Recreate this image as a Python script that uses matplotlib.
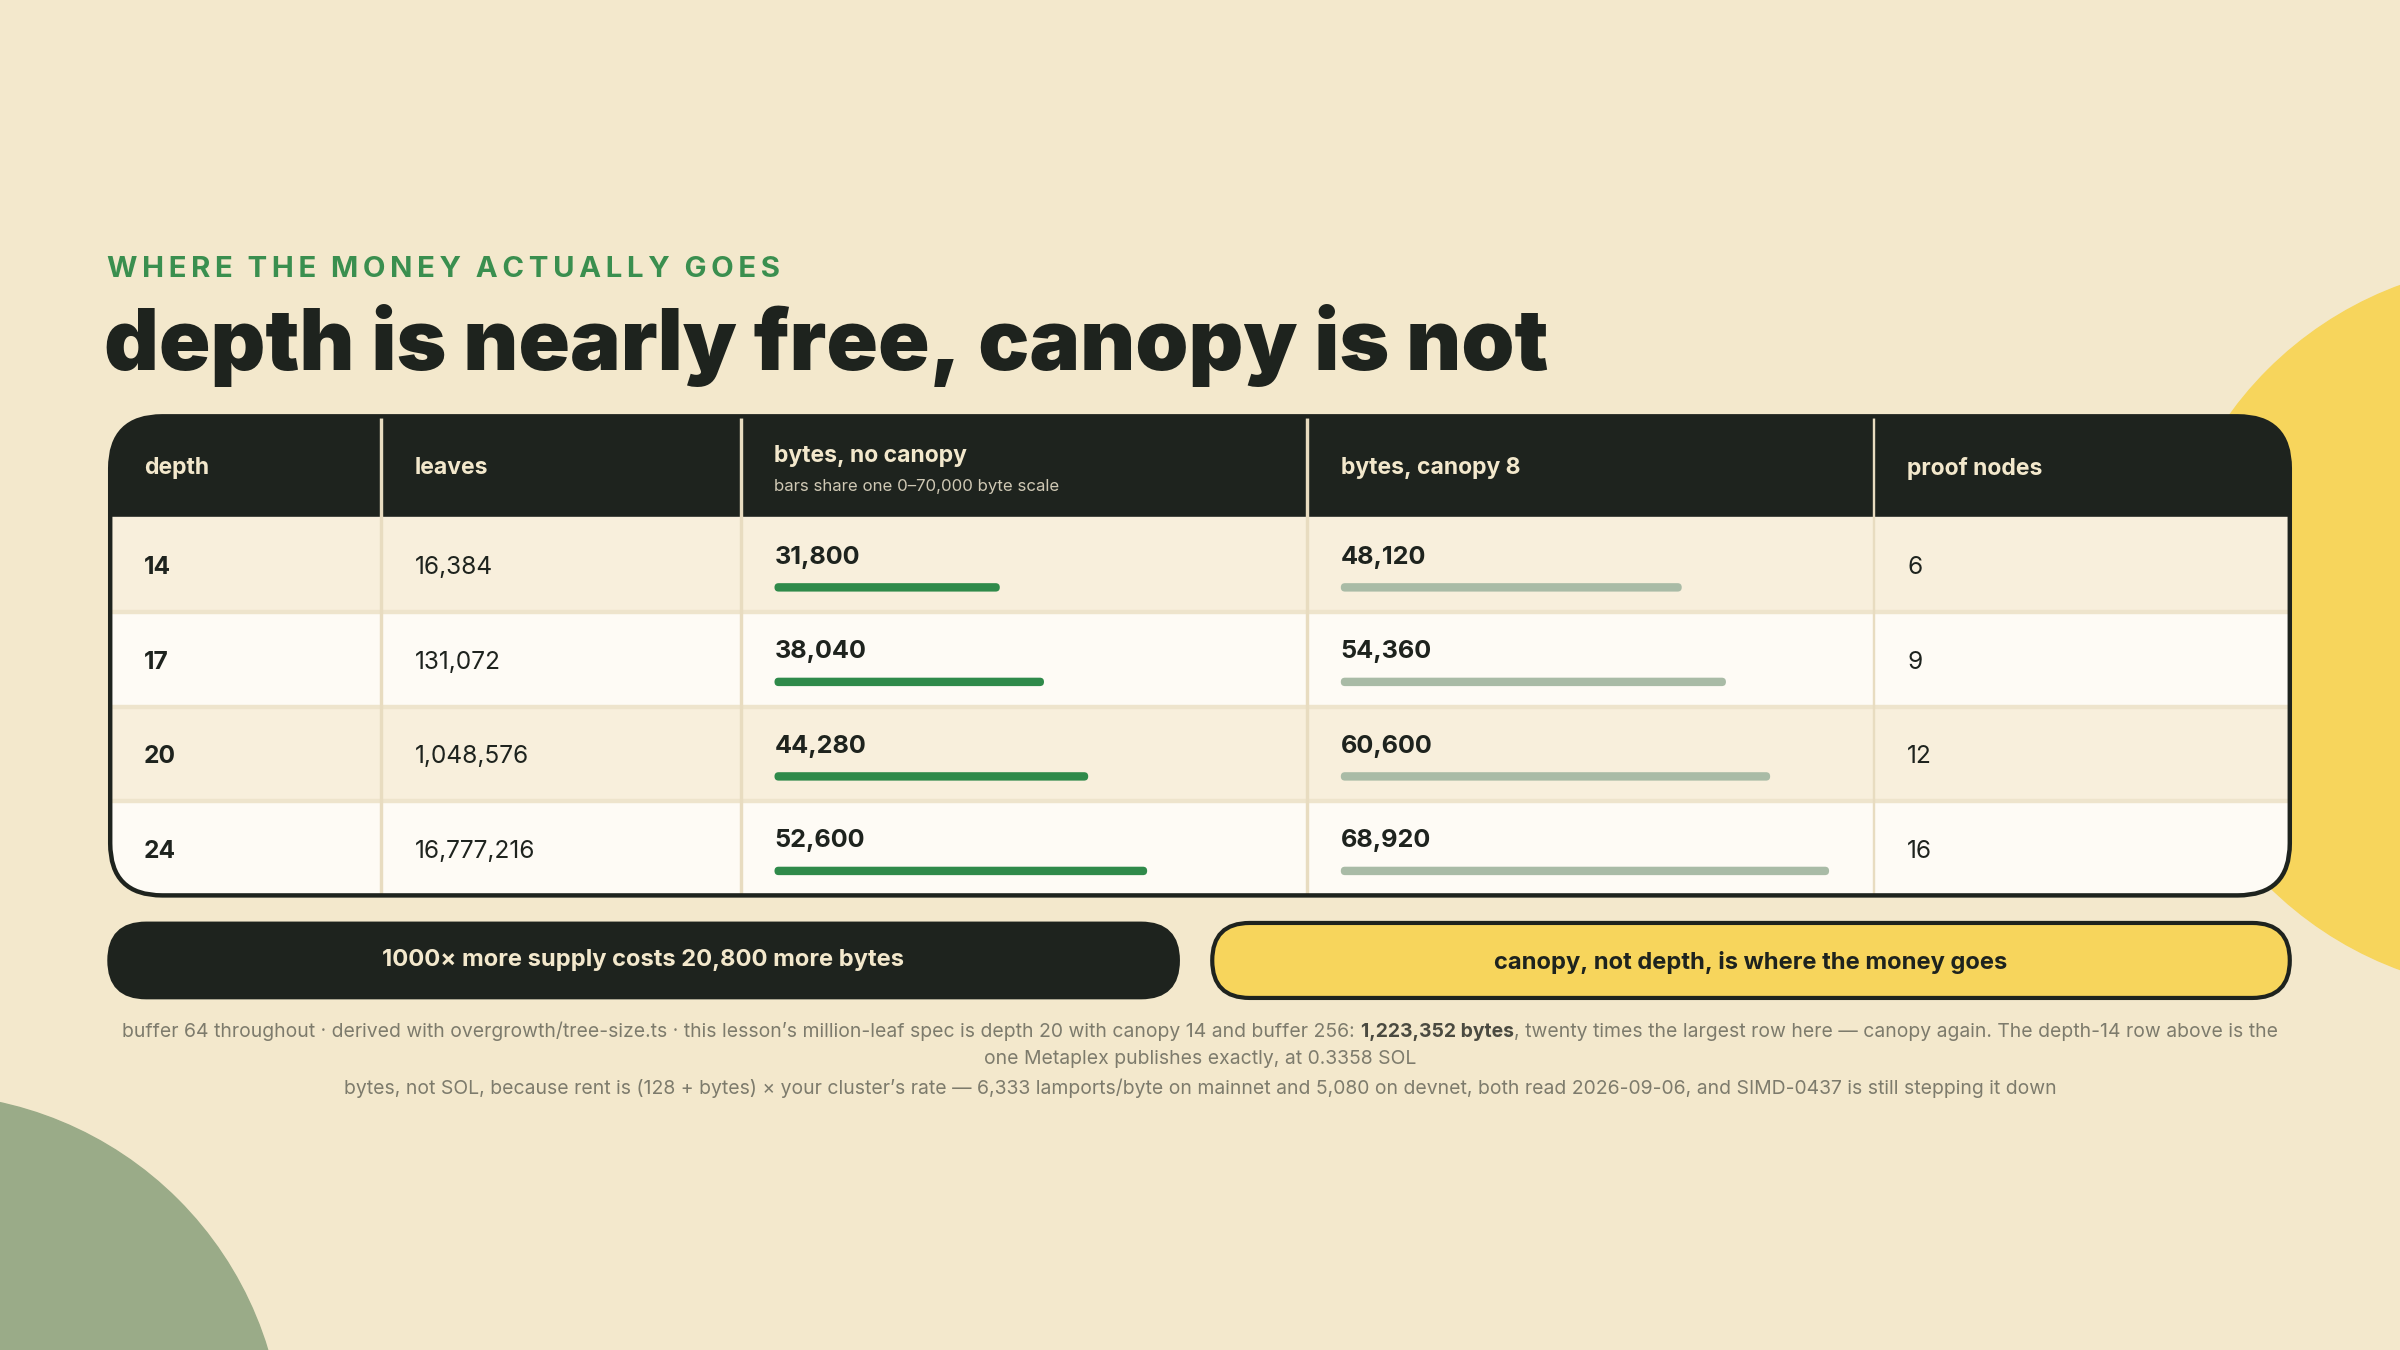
import matplotlib
matplotlib.use("Agg")
import matplotlib.pyplot as plt
from matplotlib.patches import FancyBboxPatch, Rectangle, Circle
from matplotlib.offsetbox import TextArea, HPacker, AnnotationBbox

depth = ["14", "17", "20", "24"]
leaves = ["16,384", "131,072", "1,048,576", "16,777,216"]
bytes_no_canopy = [31800, 38040, 44280, 52600]
bytes_canopy8 = [48120, 54360, 60600, 68920]
proof_nodes = [6, 9, 12, 16]
headers = ["depth", "leaves", "bytes, no canopy", "bytes, canopy 8", "proof nodes"]
scale_max = 70000

W, H = 1568, 882
K = 2400 / W / (100 / 72)  # display px -> pt
BG = "#f3e8cc"; DARK = "#1e231e"; GREEN = "#2f8a4a"; GREY = "#a9bba6"; YEL = "#f7d55c"
FONT = "Inter"

fig = plt.figure(figsize=(24, 13.5), dpi=100, facecolor=BG)
ax = fig.add_axes([0, 0, 1, 1])
ax.set_xlim(0, W); ax.set_ylim(H, 0); ax.axis("off")

ax.add_patch(Circle((1650, 410), 238, color=YEL, zorder=0))
ax.add_patch(Circle((-50, 950), 235, color="#9aab88", zorder=0))

def t(x, y, s, size, **kw):
    kw.setdefault("family", FONT)
    ax.text(x, y, s, fontsize=size * K, **kw)

sub = "WHERE THE MONEY ACTUALLY GOES"
sub_spaced = "\u2002".join("\u2009".join(w) for w in sub.split(" "))
t(70, 176, sub_spaced, 19.2, color="#3a8f4f", weight="bold", va="center")
t(68, 226, "depth is nearly free, canopy is not", 55.5, color=DARK, weight="black", va="center")

# table
x0, x1, y0, y1 = 72, 1496, 272, 585
hdr_bot = 338
rowh = (y1 - hdr_bot) / 4
cols = [x0, 249, 484, 854, 1224, x1]
clip = FancyBboxPatch((x0, y0), x1 - x0, y1 - y0, boxstyle="round,pad=0,rounding_size=34",
                      facecolor="none", edgecolor="none")
ax.add_patch(clip)
patches = [Rectangle((x0, y0), x1 - x0, hdr_bot - y0, color=DARK)]
for i in range(4):
    c = "#f8efdc" if i % 2 == 0 else "#fefbf5"
    patches.append(Rectangle((x0, hdr_bot + i * rowh), x1 - x0, rowh, color=c))
for i in range(1, 4):
    patches.append(Rectangle((x0, hdr_bot + i * rowh - 1), x1 - x0, 2, color="#eee4cc"))
for cx in cols[1:-1]:
    patches.append(Rectangle((cx - 0.6, y0), 1.2, y1 - y0, color="#e8dcc0"))
for p in patches:
    ax.add_patch(p); p.set_clip_path(clip)
ax.add_patch(FancyBboxPatch((x0, y0), x1 - x0, y1 - y0, boxstyle="round,pad=0,rounding_size=34",
                            facecolor="none", edgecolor=DARK, lw=3.2, zorder=5))

for j, h in enumerate(headers):
    if j == 2:
        t(cols[j] + 22, 298, h, 15, color="#f3e8cc", weight="bold", va="center")
        t(cols[j] + 22, 318, "bars share one 0\u201370,000 byte scale", 11, color="#cfc8b4", va="center")
    else:
        t(cols[j] + 22, 306, h, 15, color="#f3e8cc", weight="bold", va="center")

barw = 324
for i in range(4):
    ry = hdr_bot + i * rowh
    cy = ry + rowh / 2
    t(cols[0] + 22, cy + 2, depth[i], 16, color=DARK, weight="bold", va="center")
    t(cols[1] + 22, cy + 2, leaves[i], 16, color=DARK, va="center")
    t(cols[2] + 22, ry + 26, f"{bytes_no_canopy[i]:,}", 16.5, color=DARK, weight="bold", va="center")
    t(cols[3] + 22, ry + 26, f"{bytes_canopy8[i]:,}", 16.5, color=DARK, weight="bold", va="center")
    t(cols[4] + 22, cy + 2, str(proof_nodes[i]), 16, color=DARK, va="center")
    for col, v, c in ((2, bytes_no_canopy[i], GREEN), (3, bytes_canopy8[i], GREY)):
        w = v / scale_max * barw
        ax.add_patch(FancyBboxPatch((cols[col] + 22, ry + 43), w, 5.5,
                                    boxstyle="round,pad=0,rounding_size=2.7", color=c, lw=0))

# pills
ax.add_patch(FancyBboxPatch((71, 603), 699, 49, boxstyle="round,pad=0,rounding_size=24.5",
                            facecolor=DARK, edgecolor=DARK, lw=2))
t(420, 627, "1000\u00d7 more supply costs 20,800 more bytes", 15.5, color="#f3e8cc", weight="bold",
  ha="center", va="center")
ax.add_patch(FancyBboxPatch((792, 603), 704, 49, boxstyle="round,pad=0,rounding_size=24.5",
                            facecolor=YEL, edgecolor=DARK, lw=3))
t(1144, 629, "canopy, not depth, is where the money goes", 15.5, color=DARK, weight="bold",
  ha="center", va="center")

FG = "#7d7b6c"
fsd = 12.65
line1a = "buffer 64 throughout \u00b7 derived with overgrowth/tree-size.ts \u00b7 this lesson\u2019s million-leaf spec is depth 20 with canopy 14 and buffer 256: "
line1b = "1,223,352 bytes"
line1c = ", twenty times the largest row here \u2014 canopy again. The depth-14 row above is the"
fs = fsd * K
parts = [TextArea(line1a, textprops=dict(fontsize=fs, color=FG, family=FONT)),
         TextArea(line1b, textprops=dict(fontsize=fs, color="#4a4a40", family=FONT, weight="bold")),
         TextArea(line1c, textprops=dict(fontsize=fs, color=FG, family=FONT))]
pk = HPacker(children=parts, pad=0, sep=0, align="baseline")
ax.add_artist(AnnotationBbox(pk, (784, 674), frameon=False, box_alignment=(0.5, 0.5), pad=0))
t(784, 692, "one Metaplex publishes exactly, at 0.3358 SOL", fsd, color=FG, ha="center", va="center")
t(784, 711, "bytes, not SOL, because rent is (128 + bytes) \u00d7 your cluster\u2019s rate \u2014 6,333 lamports/byte on mainnet and 5,080 on devnet, both read 2026-09-06, and SIMD-0437 is still stepping it down",
  fsd, color=FG, ha="center", va="center")

fig.savefig("out.png", dpi=100, facecolor=BG)
